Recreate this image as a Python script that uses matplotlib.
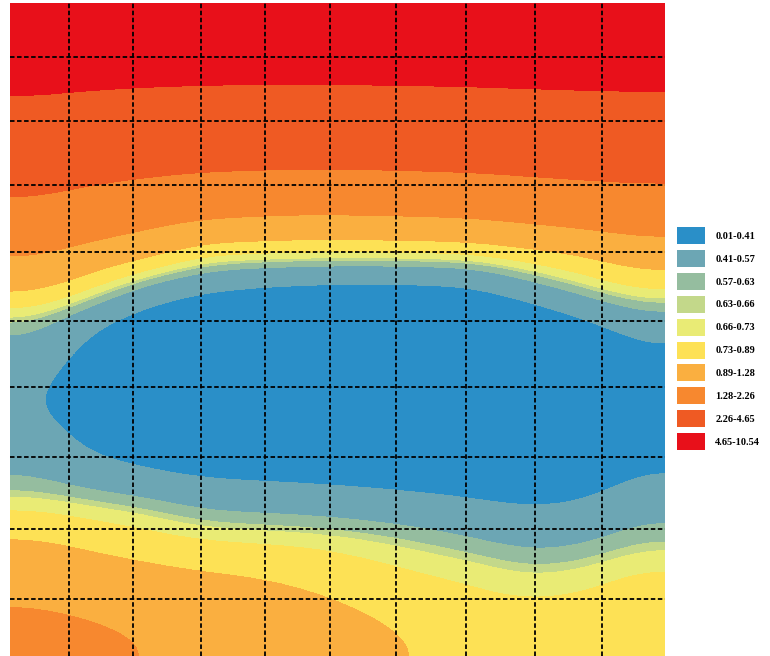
import numpy as np
import matplotlib.pyplot as plt
from matplotlib.colors import ListedColormap, BoundaryNorm
from matplotlib.patches import Patch

# class limits shown in the legend
levels = [0.01, 0.41, 0.57, 0.63, 0.66, 0.73, 0.89, 1.28, 2.26, 4.65, 10.54]
band_colors = ["#2A8FC8", "#6CA6B4", "#95BD9F", "#C3D88A", "#E9EB75",
               "#FDE155", "#FAAF40", "#F7882F", "#EF5A23", "#E8101A"]

# field values, 20 rows (top -> bottom) x 12 columns (left -> right)
z = np.array([
    [7.30, 7.27, 7.24, 7.23, 7.22, 7.22, 7.23, 7.23, 7.24, 7.26, 7.27, 7.28],
    [6.13, 6.02, 5.96, 5.93, 5.90, 5.90, 5.91, 5.92, 5.96, 6.00, 6.03, 6.05],
    [4.95, 4.78, 4.69, 4.63, 4.60, 4.60, 4.62, 4.65, 4.69, 4.74, 4.80, 4.83],
    [4.08, 3.92, 3.81, 3.72, 3.69, 3.67, 3.69, 3.72, 3.76, 3.83, 3.89, 3.93],
    [3.32, 3.11, 2.95, 2.82, 2.77, 2.75, 2.76, 2.80, 2.85, 2.94, 3.03, 3.09],
    [2.55, 2.29, 2.13, 2.00, 1.96, 1.93, 1.94, 1.97, 2.01, 2.10, 2.19, 2.25],
    [1.92, 1.68, 1.49, 1.34, 1.28, 1.24, 1.26, 1.28, 1.32, 1.42, 1.52, 1.63],
    [1.37, 1.17, 1.03, 0.80, 0.78, 0.765, 0.765, 0.771, 0.788, 0.864, 0.94, 1.09],
    [1.02, 0.80, 0.578, 0.477, 0.434, 0.415, 0.405, 0.415, 0.435, 0.565, 0.68, 0.80],
    [0.66, 0.486, 0.363, 0.296, 0.275, 0.259, 0.25, 0.252, 0.262, 0.325, 0.44, 0.55],
    [0.533, 0.366, 0.244, 0.20, 0.177, 0.157, 0.147, 0.149, 0.161, 0.192, 0.26, 0.40],
    [0.45, 0.314, 0.21, 0.158, 0.13, 0.11, 0.10, 0.105, 0.12, 0.149, 0.18, 0.29],
    [0.43, 0.318, 0.226, 0.183, 0.158, 0.138, 0.128, 0.121, 0.123, 0.135, 0.166, 0.27],
    [0.50, 0.377, 0.307, 0.24, 0.22, 0.20, 0.19, 0.168, 0.171, 0.178, 0.211, 0.33],
    [0.561, 0.494, 0.446, 0.407, 0.391, 0.379, 0.36, 0.337, 0.312, 0.278, 0.32, 0.42],
    [0.72, 0.681, 0.641, 0.566, 0.551, 0.538, 0.516, 0.493, 0.46, 0.427, 0.442, 0.53],
    [0.905, 0.833, 0.785, 0.74, 0.72, 0.708, 0.676, 0.634, 0.585, 0.536, 0.555, 0.63],
    [1.09, 1.013, 0.95, 0.912, 0.891, 0.845, 0.783, 0.739, 0.712, 0.66, 0.686, 0.75],
    [1.275, 1.192, 1.109, 1.026, 0.977, 0.939, 0.881, 0.809, 0.769, 0.757, 0.767, 0.81],
    [1.50, 1.40, 1.269, 1.14, 1.065, 1.012, 0.951, 0.878, 0.817, 0.804, 0.815, 0.87],
])

# dashed grid (map units = pixels of the original figure)
grid_x = [69, 133, 201, 265, 330, 396, 466, 535, 602]
grid_y = [57, 121, 185, 252, 321, 387, 457, 529, 599]

fig = plt.figure(figsize=(7.7, 6.56), dpi=100)
ax = fig.add_axes([10 / 770, 0, 655 / 770, 653 / 656])

cmap = ListedColormap(band_colors)
norm = BoundaryNorm(levels, cmap.N, clip=True)
ax.imshow(z, cmap=cmap, norm=norm, interpolation="bicubic",
          interpolation_stage="data", extent=(10, 665, 656, 3), aspect="auto")

for gx in grid_x:
    ax.axvline(gx, color="black", lw=1.3, ls=(0, (2.5, 1.4)))
for gy in grid_y:
    ax.axhline(gy, color="black", lw=1.3, ls=(0, (2.5, 1.4)))

ax.set_xlim(10, 665)
ax.set_ylim(656, 3)
ax.axis("off")

handles = [Patch(facecolor=c, edgecolor="none") for c in band_colors]
labels = [f"{lo:.2f}-{hi:.2f}" for lo, hi in zip(levels[:-1], levels[1:])]
fig.legend(handles, labels, loc="upper left",
           bbox_to_anchor=(677 / 770, 1 - 227 / 656), frameon=False,
           prop={"family": "Liberation Serif", "size": 7.5, "weight": "bold"},
           handlelength=2.7, handleheight=2.13, labelspacing=0.57,
           handletextpad=0.96, borderpad=0, borderaxespad=0)

fig.savefig("out.png", dpi=100)
